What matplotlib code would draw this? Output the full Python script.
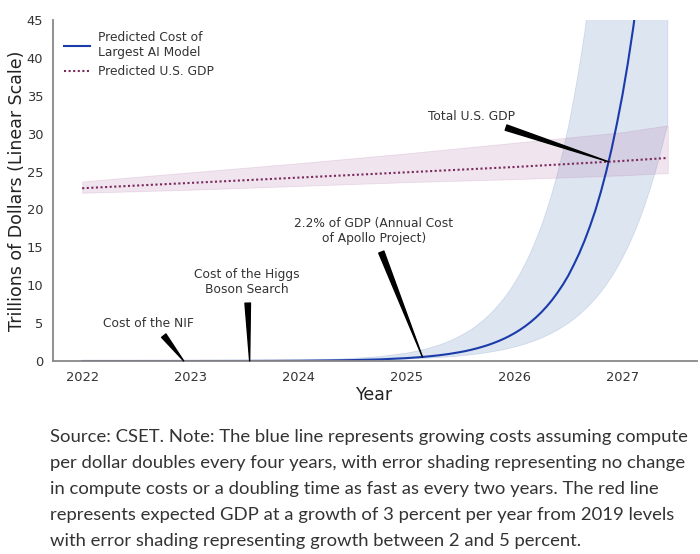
import matplotlib
matplotlib.use("Agg")
import matplotlib.pyplot as plt

# values (trillions of dollars)
years = [2022.0, 2022.5, 2023.0, 2023.5, 2024.0, 2024.25, 2024.5, 2024.75,
         2025.0, 2025.1, 2025.2, 2025.3,
         2025.40, 2025.45, 2025.50, 2025.55, 2025.60, 2025.65, 2025.70, 2025.75,
         2025.80, 2025.85, 2025.90, 2025.95,
         2026.00, 2026.05, 2026.10, 2026.15, 2026.20, 2026.25, 2026.30, 2026.35,
         2026.40, 2026.45, 2026.50, 2026.55, 2026.60, 2026.65, 2026.70, 2026.75,
         2026.80, 2026.85, 2026.90, 2026.95,
         2027.00, 2027.05, 2027.10, 2027.15, 2027.20, 2027.25, 2027.30, 2027.35,
         2027.42]
cost = [0.0004, 0.0013, 0.004, 0.013, 0.04, 0.07, 0.12, 0.21,
        0.38, 0.48, 0.60, 0.75,
        0.94, 1.06, 1.18, 1.32, 1.48, 1.66, 1.86, 2.08,
        2.33, 2.61, 2.92, 3.27,
        3.66, 4.10, 4.59, 5.14, 5.75, 6.44, 7.21, 8.07,
        9.04, 10.1, 11.3, 12.7, 14.2, 15.9, 17.8, 19.9,
        22.3, 25.0, 28.0, 31.4,
        35.1, 39.3, 44.0, 49.3, 55.1, 61.7, 69.1, 77.4,
        90.6]
cost_hi = [0.0012, 0.0036, 0.011, 0.035, 0.11, 0.19, 0.33, 0.58,
           1.03, 1.32, 1.65, 2.08,
           2.62, 2.96, 3.31, 3.71, 4.15, 4.66, 5.22, 5.85,
           6.55, 7.33, 8.2, 9.15,
           10.25, 11.45, 12.8, 14.3, 16.0, 17.8, 19.9, 22.2,
           24.8, 27.7, 30.9, 34.6, 38.7, 43.3, 48.5, 54.3,
           60.8, 68, 76, 85,
           95.6, 107, 120, 134, 150, 168, 188, 210,
           245]
cost_lo = [0.0003, 0.0009, 0.0027, 0.008, 0.025, 0.046, 0.08, 0.14,
           0.25, 0.30, 0.37, 0.45,
           0.55, 0.61, 0.68, 0.75, 0.83, 0.91, 1.01, 1.12,
           1.23, 1.36, 1.50, 1.66,
           1.84, 2.03, 2.24, 2.48, 2.74, 3.03, 3.35, 3.70,
           4.09, 4.52, 4.99, 5.52, 6.10, 6.74, 7.45, 8.23,
           9.09, 10.05, 11.11, 12.28,
           13.57, 15.0, 16.58, 18.3, 20.25, 22.4, 24.7, 27.3,
           31.3]

gdp_years = [2022, 2023, 2024, 2025, 2026, 2027, 2027.42]
gdp = [22.8, 23.5, 24.2, 24.9, 25.6, 26.4, 26.8]
gdp_lo = [22.2, 22.6, 23.1, 23.6, 24.0, 24.5, 24.8]
gdp_hi = [23.7, 24.9, 26.1, 27.4, 28.8, 30.2, 31.1]

caption = [
    "Source: CSET. Note: The blue line represents growing costs assuming compute",
    "per dollar doubles every four years, with error shading representing no change",
    "in compute costs or a doubling time as fast as every two years. The red line",
    "represents expected GDP at a growth of 3 percent per year from 2019 levels",
    "with error shading representing growth between 2 and 5 percent.",
]

fig = plt.figure(figsize=(7, 5.54), dpi=100)
ax = fig.add_axes([53 / 700, 193 / 554, 644 / 700, 341 / 554])

ax.fill_between(years, cost_lo, cost_hi, color="#557db9", alpha=0.2,
                edgecolor="#557db9", linewidth=0.6)
ax.fill_between(gdp_years, gdp_lo, gdp_hi, color="#b478aa", alpha=0.2,
                edgecolor="#b478aa", linewidth=0.6)
ax.plot(years, cost, color="#1a3caa", lw=1.5, label="Predicted Cost of\nLargest AI Model")
ax.plot(gdp_years, gdp, color="#7a2a5c", lw=1.5, linestyle=(0, (1, 1.2)),
        label="Predicted U.S. GDP")

ax.set_xlim(2021.73, 2027.69)
ax.set_ylim(0, 45)
ax.set_xticks([2022, 2023, 2024, 2025, 2026, 2027])
ax.set_yticks(range(0, 46, 5))
ax.tick_params(length=0, labelsize=9.4, labelcolor="#333333", pad=7)
for s in ["top", "right"]:
    ax.spines[s].set_visible(False)
for s in ["left", "bottom"]:
    ax.spines[s].set_color("#888888")
    ax.spines[s].set_linewidth(1.3)

ax.set_xlabel("Year", fontsize=12.5, color="#222222")
ax.set_ylabel("Trillions of Dollars (Linear Scale)", fontsize=12.5, color="#222222")
ax.xaxis.set_label_coords(0.5, -0.073)
ax.yaxis.set_label_coords(-0.042, 0.5)

leg = ax.legend(loc="upper left", frameon=False, fontsize=8.8, handlelength=2.1,
                handletextpad=0.7, labelcolor="#333333")

notes = [
    ("Cost of the NIF", (2022.94, 0.0), (2022.61, 5.0), 0.62),
    ("Cost of the Higgs\nBoson Search", (2023.55, 0.0), (2023.52, 10.4), 0.51),
    ("2.2% of GDP (Annual Cost\nof Apollo Project)", (2025.15, 0.5), (2024.70, 17.1), 0.53),
    ("Total U.S. GDP", (2026.87, 26.3), (2025.60, 32.2), 0.76),
]
for txt, xy, xyt, rx in notes:
    ax.annotate(txt, xy=xy, xytext=xyt, ha="center", va="center", fontsize=8.8,
                color="#333333",
                arrowprops=dict(arrowstyle="wedge,tail_width=0.45", color="black",
                                relpos=(rx, 0), shrinkA=3, shrinkB=0))

for i, line in enumerate(caption):
    fig.text(50 / 700, 1 - (442 + 26 * i) / 554, line, fontsize=13.3,
             family="Lato", color="#333333", va="baseline", ha="left")

fig.savefig("out.png", dpi=100)
